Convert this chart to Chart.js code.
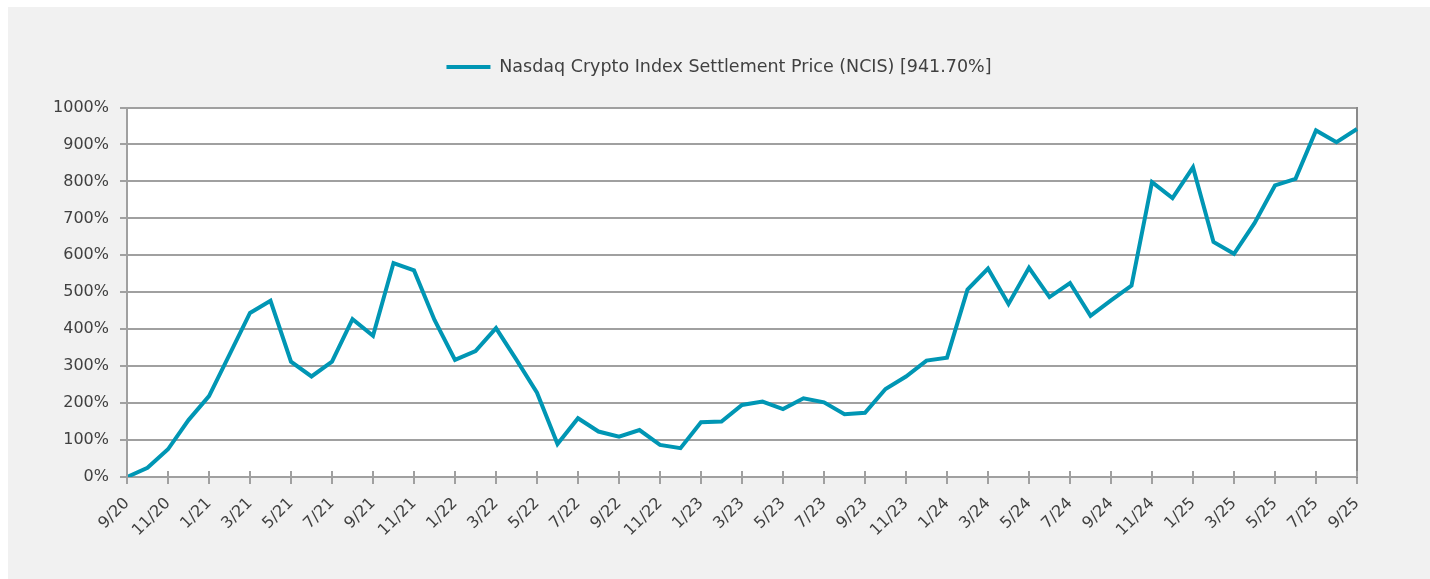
<!DOCTYPE html>
<html>
<head>
<meta charset="utf-8">
<script src="https://cdn.jsdelivr.net/npm/chart.js@4.4.1/dist/chart.umd.min.js"></script>
<style>
    html, body { margin: 0; padding: 0; background: #ffffff; }
    #chart { display: block; }
</style>
</head>
<body>
<canvas id="chart" width="1430" height="579"></canvas>
<script>
// Month labels (monthly, 9/20 .. 9/25)
const months = [
    '9/20', '10/20', '11/20', '12/20',
    '1/21', '2/21', '3/21', '4/21', '5/21', '6/21', '7/21', '8/21', '9/21', '10/21', '11/21', '12/21',
    '1/22', '2/22', '3/22', '4/22', '5/22', '6/22', '7/22', '8/22', '9/22', '10/22', '11/22', '12/22',
    '1/23', '2/23', '3/23', '4/23', '5/23', '6/23', '7/23', '8/23', '9/23', '10/23', '11/23', '12/23',
    '1/24', '2/24', '3/24', '4/24', '5/24', '6/24', '7/24', '8/24', '9/24', '10/24', '11/24', '12/24',
    '1/25', '2/25', '3/25', '4/25', '5/25', '6/25', '7/25', '8/25', '9/25'
];

// Cumulative return, percent
const ncisReturn = [
    0, 25, 75, 154,
    219, 331, 444, 477, 312, 272, 312, 427, 382, 579, 559, 425,
    317, 341, 403, 317, 228, 89, 159, 123, 109, 127, 87, 78,
    148, 150, 195, 204, 184, 213, 202, 170, 174, 238, 272, 315,
    323, 507, 564, 468, 566, 487, 525, 436, 478, 518, 798, 755,
    838, 636, 604, 687, 789, 807, 938, 906, 941.7
];

const yTicks = [0, 100, 200, 300, 400, 500, 600, 700, 800, 900, 1000];

const seriesName = 'Nasdaq Crypto Index Settlement Price (NCIS) [941.70%]';

const lineColor = '#0096b4';
const gridColor = '#a0a0a0';
const textColor = '#404040';
const fontFamily = '"DejaVu Sans", sans-serif';

// Page and plot backgrounds, plus the small tick marks above the x axis
const backgroundPlugin = {
    id: 'backgrounds',
    beforeDraw(chart) {
        const ctx = chart.ctx;
        const area = chart.chartArea;
        ctx.save();
        ctx.fillStyle = '#ffffff';
        ctx.fillRect(0, 0, chart.width, chart.height);
        ctx.fillStyle = '#f1f1f1';
        ctx.fillRect(8, 7, chart.width - 8, chart.height - 7);
        ctx.fillStyle = '#ffffff';
        ctx.fillRect(area.left, area.top, area.right - area.left, area.bottom - area.top);
        ctx.restore();
    },
    afterDatasetsDraw(chart) {
        const ctx = chart.ctx;
        const xScale = chart.scales.x;
        const bottom = chart.chartArea.bottom;
        ctx.save();
        ctx.strokeStyle = gridColor;
        ctx.lineWidth = 2;
        ctx.beginPath();
        for (let i = 0; i < months.length; i += 2) {
            const px = Math.round(xScale.getPixelForValue(i));
            ctx.moveTo(px, bottom - 6);
            ctx.lineTo(px, bottom);
        }
        ctx.stroke();
        ctx.restore();
    }
};

const ctx = document.getElementById('chart').getContext('2d');
new Chart(ctx, {
    type: 'line',
    data: {
        labels: months,
        datasets: [{
            label: seriesName,
            data: ncisReturn,
            borderColor: lineColor,
            backgroundColor: lineColor,
            borderWidth: 4,
            pointRadius: 0,
            tension: 0,
            fill: false,
            yAxisID: 'y'
        }]
    },
    options: {
        responsive: false,
        animation: false,
        events: [],
        layout: {
            padding: { top: 48.25, left: 8, right: 0, bottom: 0 }
        },
        plugins: {
            legend: {
                display: true,
                position: 'top',
                weight: 3000,
                labels: {
                    color: textColor,
                    font: { family: fontFamily, size: 17.5 },
                    padding: 10,
                    usePointStyle: true,
                    pointStyle: 'line',
                    pointStyleWidth: 44,
                    boxHeight: 17
                }
            },
            // empty title used as spacing between legend and plot
            title: {
                display: true,
                text: ' ',
                font: { size: 10 },
                padding: { top: 5, bottom: 4.75 }
            },
            tooltip: { enabled: false }
        },
        scales: {
            x: {
                type: 'category',
                offset: false,
                grid: {
                    drawOnChartArea: false,
                    tickLength: 7,
                    lineWidth: 2,
                    color: function(c) {
                        return c.index % 2 === 0 ? gridColor : 'rgba(0,0,0,0)';
                    }
                },
                border: { color: gridColor, width: 2 },
                ticks: {
                    autoSkip: false,
                    maxRotation: 45,
                    minRotation: 45,
                    padding: 10,
                    color: textColor,
                    font: { family: fontFamily, size: 16 },
                    callback: function(value, index) {
                        return index % 2 === 0 ? this.getLabelForValue(value) : '';
                    }
                },
                afterFit: function(scale) {
                    scale.height = 102;
                }
            },
            y: {
                position: 'left',
                min: yTicks[0],
                max: yTicks[yTicks.length - 1],
                grid: {
                    color: gridColor,
                    lineWidth: 2,
                    tickLength: 7
                },
                border: { color: gridColor, width: 2 },
                afterBuildTicks: function(scale) {
                    scale.ticks = yTicks.map(v => ({ value: v }));
                },
                ticks: {
                    padding: 11,
                    color: textColor,
                    font: { family: fontFamily, size: 16 },
                    callback: function(value) {
                        return value + '%';
                    }
                },
                afterFit: function(scale) {
                    scale.width = 119;
                }
            },
            yRight: {
                position: 'right',
                display: true,
                grid: { display: false },
                ticks: { display: false },
                border: { color: '#8a8a8a', width: 2 },
                afterFit: function(scale) {
                    scale.width = 73;
                }
            }
        }
    },
    plugins: [backgroundPlugin]
});
</script>
</body>
</html>
